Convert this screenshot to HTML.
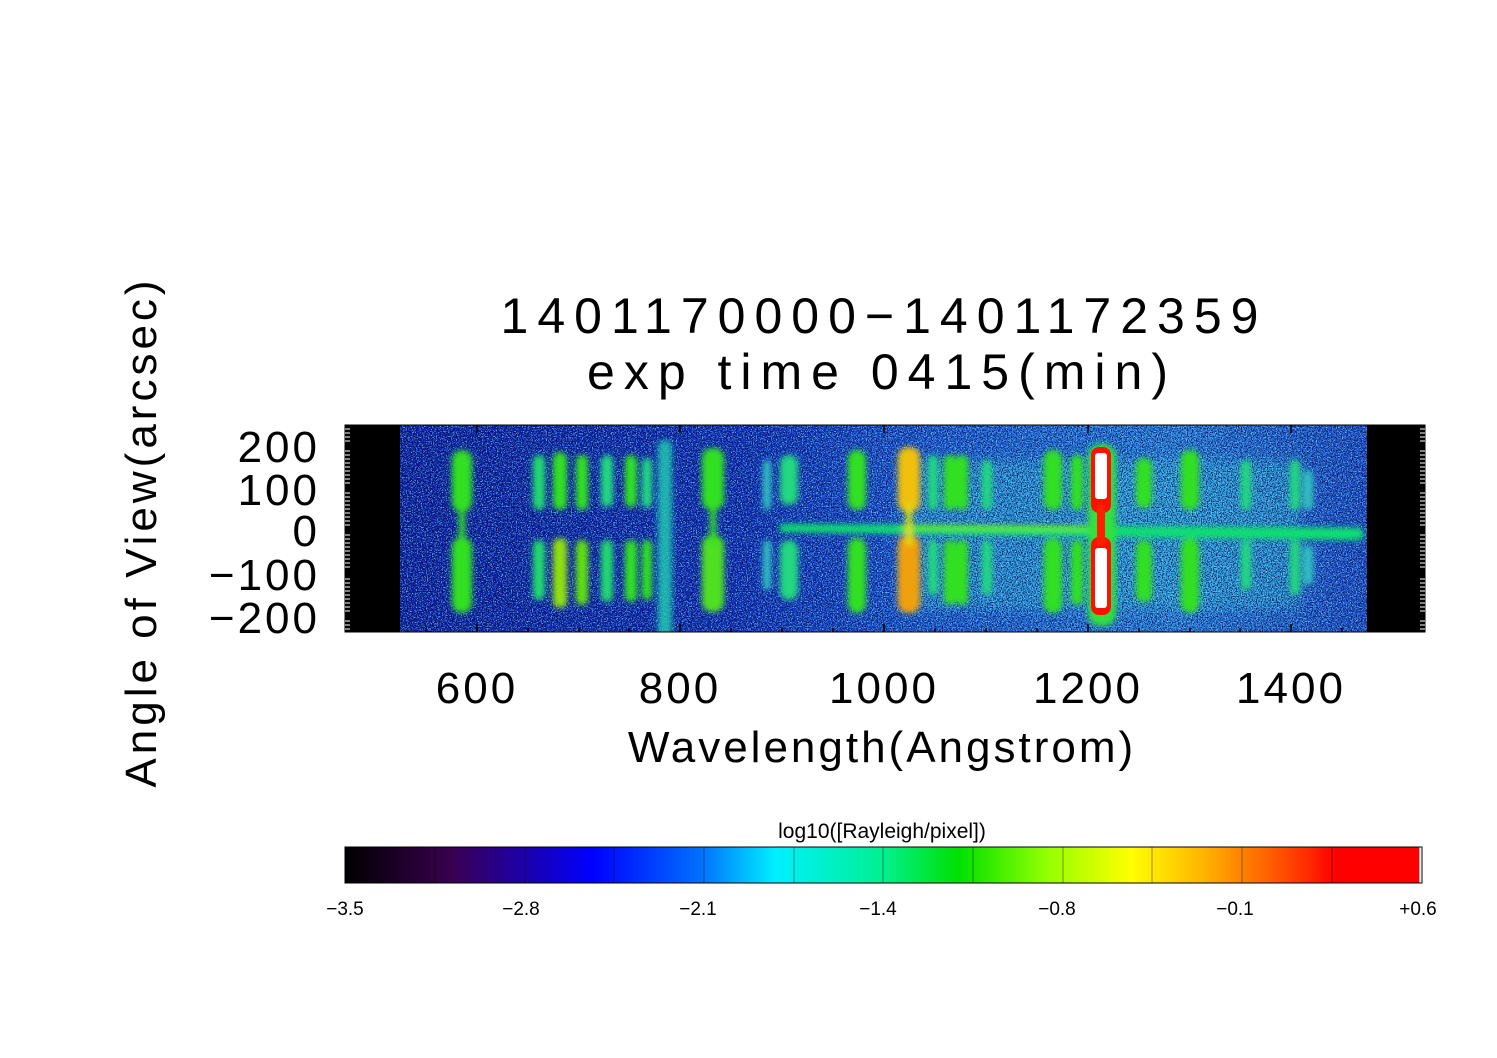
<!DOCTYPE html>
<html><head><meta charset="utf-8"><style>
body{margin:0;background:#fff;}
svg{display:block;font-family:"Liberation Sans",sans-serif;}
</style></head><body>
<svg width="1497" height="1058" viewBox="0 0 1497 1058" xmlns="http://www.w3.org/2000/svg">
<defs>
<filter id="noiseD" x="0" y="0" width="100%" height="100%">
<feTurbulence type="fractalNoise" baseFrequency="0.8" numOctaves="2" seed="3" result="t"/>
<feColorMatrix in="t" type="matrix" values="0 0 0 0 0  0 0 0 0 0  0 0 0 0 0.05  6 0 0 0 -2.9"/>
</filter>
<filter id="noiseL" x="0" y="0" width="100%" height="100%">
<feTurbulence type="fractalNoise" baseFrequency="0.8" numOctaves="2" seed="11" result="t"/>
<feColorMatrix in="t" type="matrix" values="0 0 0 0 0.2  0 0 0 0 0.8  0 0 0 0 1  6 0 0 0 -2.9"/>
</filter>
<filter id="bl" x="-50%" y="-20%" width="200%" height="140%"><feGaussianBlur stdDeviation="3"/></filter>
<filter id="bl2" x="-50%" y="-20%" width="200%" height="140%"><feGaussianBlur stdDeviation="6"/></filter>
<linearGradient id="bg" x1="0" x2="1">
<stop offset="0" stop-color="#0818a8"/><stop offset="0.35" stop-color="#0a28c0"/>
<stop offset="0.55" stop-color="#1858e0"/><stop offset="0.8" stop-color="#2580e8"/><stop offset="1" stop-color="#1848d0"/>
</linearGradient>
<linearGradient id="cb" x1="0" x2="1">
<stop offset="0" stop-color="#000"/><stop offset="0.1" stop-color="#3a0050"/>
<stop offset="0.23" stop-color="#0000ff"/><stop offset="0.33" stop-color="#0070ff"/>
<stop offset="0.4" stop-color="#00f0ff"/><stop offset="0.5" stop-color="#00f090"/>
<stop offset="0.57" stop-color="#00e000"/><stop offset="0.65" stop-color="#90ff00"/>
<stop offset="0.73" stop-color="#ffff00"/><stop offset="0.8" stop-color="#ffb000"/>
<stop offset="0.88" stop-color="#ff4000"/><stop offset="0.92" stop-color="#ff0000"/>
<stop offset="0.997" stop-color="#ff0000"/><stop offset="0.998" stop-color="#fff"/>
</linearGradient>
<clipPath id="pc"><rect x="400" y="425" width="967" height="207"/></clipPath>
</defs>

<rect x="345" y="425" width="1080" height="207" fill="#000"/>
<g clip-path="url(#pc)">
<rect x="400" y="425" width="967" height="207" fill="url(#bg)"/>
<g filter="url(#bl2)" fill="#30d0e0" opacity="0.45">
<rect x="900" y="460" width="400" height="150"/>
</g>
<rect x="400" y="425" width="967" height="207" filter="url(#noiseL)" opacity="0.7"/>
<rect x="400" y="425" width="967" height="207" filter="url(#noiseD)" opacity="0.8"/>
<g filter="url(#bl)">
<rect x="658" y="440" width="14" height="200" rx="6" fill="#20d0b0" opacity="0.8"/>
<path d="M780 524 L1360 528 L1365 534 L1360 540 L780 532Z" fill="#10e070"/>
<path d="M900 525 L1100 526 L1100 531 L900 530Z" fill="#60f020"/>
<g fill="#30e020">
<rect x="452" y="450" width="20" height="62" rx="10"/><rect x="452" y="537" width="20" height="76" rx="10"/><rect x="459" y="505" width="6" height="40"/>
<rect x="533" y="455" width="12" height="55" rx="6" fill="#20d870"/><rect x="533" y="540" width="12" height="60" rx="6" fill="#20d870"/>
<rect x="553" y="452" width="14" height="58" rx="7"/><rect x="553" y="538" width="14" height="70" rx="7" fill="#90e010"/>
<rect x="576" y="455" width="12" height="55" rx="6"/><rect x="576" y="540" width="12" height="65" rx="6" fill="#60e010"/>
<rect x="601" y="455" width="12" height="52" rx="6" fill="#20d880"/><rect x="601" y="540" width="12" height="62" rx="6" fill="#20d870"/>
<rect x="625" y="455" width="12" height="52" rx="6"/><rect x="625" y="540" width="12" height="62" rx="6"/>
<rect x="642" y="458" width="10" height="50" rx="5" fill="#20d880"/><rect x="642" y="540" width="10" height="60" rx="5"/>
<rect x="702" y="448" width="22" height="62" rx="10"/><rect x="702" y="535" width="22" height="77" rx="10" fill="#50e020"/><rect x="710" y="505" width="6" height="40"/>
<rect x="763" y="460" width="8" height="50" rx="4" fill="#30c0c0"/><rect x="763" y="540" width="8" height="50" rx="4" fill="#30c0c0"/>
<rect x="780" y="455" width="18" height="50" rx="9" fill="#20d880"/><rect x="780" y="540" width="18" height="60" rx="9" fill="#20d880"/>
<rect x="848" y="450" width="18" height="60" rx="9"/><rect x="848" y="538" width="18" height="75" rx="9"/>
<rect x="898" y="447" width="22" height="65" rx="10" fill="#f0c010"/><rect x="898" y="535" width="22" height="78" rx="10" fill="#f0a010"/><rect x="906" y="505" width="6" height="40" fill="#e0e010"/>
<rect x="928" y="455" width="10" height="55" rx="5" fill="#20d880"/><rect x="928" y="540" width="10" height="55" rx="5" fill="#20d880"/>
<rect x="944" y="455" width="12" height="55" rx="6"/><rect x="944" y="540" width="12" height="65" rx="6"/>
<rect x="956" y="455" width="12" height="55" rx="6"/><rect x="956" y="540" width="12" height="65" rx="6"/>
<rect x="982" y="460" width="10" height="50" rx="5" fill="#20d880"/><rect x="982" y="540" width="10" height="55" rx="5" fill="#20d880"/>
<rect x="1044" y="450" width="18" height="60" rx="9"/><rect x="1044" y="538" width="18" height="75" rx="9"/>
<rect x="1071" y="455" width="12" height="55" rx="6"/><rect x="1071" y="540" width="12" height="65" rx="6"/>
<rect x="1136" y="458" width="16" height="50" rx="8"/><rect x="1136" y="540" width="16" height="62" rx="8"/>
<rect x="1181" y="450" width="18" height="60" rx="9"/><rect x="1181" y="538" width="18" height="75" rx="9"/>
<rect x="1241" y="460" width="10" height="50" rx="5" fill="#20d880"/><rect x="1241" y="540" width="10" height="50" rx="5" fill="#20d880"/>
<rect x="1290" y="460" width="10" height="50" rx="5" fill="#20d880"/><rect x="1290" y="540" width="10" height="55" rx="5" fill="#20d880"/>
<rect x="1303" y="470" width="10" height="40" rx="5" fill="#30c0c0"/><rect x="1303" y="545" width="10" height="40" rx="5" fill="#30c0c0"/>
</g>
</g>
<g>
<rect x="1088" y="444" width="28" height="182" rx="12" fill="#30e040" filter="url(#bl)"/>
<rect x="1091" y="447" width="20" height="66" rx="8" fill="#ff1000"/>
<rect x="1091" y="537" width="20" height="78" rx="8" fill="#ff1000"/>
<rect x="1097" y="505" width="8" height="40" fill="#ff2000"/>
<rect x="1095" y="453" width="12" height="46" rx="3" fill="#fff"/>
<rect x="1095" y="548" width="12" height="60" rx="3" fill="#fff"/>
</g>
</g>
<rect x="345" y="425" width="1080" height="207" fill="none" stroke="#000" stroke-width="1"/>
<g stroke="#000" stroke-width="1.5">
<path d="M477 632v-8M680 632v-8M884 632v-8M1088 632v-8M1291 632v-8M477 425v8M680 425v8M884 425v8M1088 425v8M1291 425v8"/>
<path d="M375 632v-4M426 632v-4M528 632v-4M579 632v-4M629 632v-4M731 632v-4M782 632v-4M833 632v-4M935 632v-4M986 632v-4M1037 632v-4M1139 632v-4M1190 632v-4M1240 632v-4M1342 632v-4M1393 632v-4"/>
<path d="M345 447h10M345 489h10M345 530h10M345 574h10M345 617h10M1425 447h-10M1425 489h-10M1425 530h-10M1425 574h-10M1425 617h-10"/>
</g>
<g stroke="#fff" stroke-width="1">
<path d="M345 429h5M345 433h5M345 437h5M345 441h5M345 451h5M345 455h5M345 459h5M345 463h5M345 467h5M345 471h5M345 475h5M345 479h5M345 483h5M345 493h5M345 497h5M345 501h5M345 505h5M345 509h5M345 513h5M345 517h5M345 521h5M345 525h5M345 535h5M345 539h5M345 543h5M345 547h5M345 551h5M345 555h5M345 559h5M345 563h5M345 567h5M345 579h5M345 583h5M345 587h5M345 591h5M345 595h5M345 599h5M345 603h5M345 607h5M345 611h5M345 621h5M345 625h5M345 629h5"/>
<path d="M1420 429h5M1420 433h5M1420 437h5M1420 441h5M1420 451h5M1420 455h5M1420 459h5M1420 463h5M1420 467h5M1420 471h5M1420 475h5M1420 479h5M1420 483h5M1420 493h5M1420 497h5M1420 501h5M1420 505h5M1420 509h5M1420 513h5M1420 517h5M1420 521h5M1420 525h5M1420 535h5M1420 539h5M1420 543h5M1420 547h5M1420 551h5M1420 555h5M1420 559h5M1420 563h5M1420 567h5M1420 579h5M1420 583h5M1420 587h5M1420 591h5M1420 595h5M1420 599h5M1420 603h5M1420 607h5M1420 611h5M1420 621h5M1420 625h5M1420 629h5"/>
</g>

<g fill="#000" font-size="50" text-anchor="middle" letter-spacing="9">
<text x="884" y="333">1401170000−1401172359</text>
<text x="882" y="389">exp time 0415(min)</text>
</g>
<g fill="#000" font-size="44" text-anchor="end" letter-spacing="3">
<text x="320" y="462">200</text>
<text x="320" y="505">100</text>
<text x="320" y="546">0</text>
<text x="320" y="590">−100</text>
<text x="320" y="633">−200</text>
</g>
<g fill="#000" font-size="44" text-anchor="middle" letter-spacing="3">
<text x="477" y="703">600</text>
<text x="680" y="703">800</text>
<text x="884" y="703">1000</text>
<text x="1088" y="703">1200</text>
<text x="1291" y="703">1400</text>
<text x="882" y="762">Wavelength(Angstrom)</text>
<text transform="translate(156,532) rotate(-90)" letter-spacing="4">Angle of View(arcsec)</text>
</g>

<text x="882" y="838" font-size="21" text-anchor="middle">log10([Rayleigh/pixel])</text>
<rect x="345" y="847" width="1077" height="36" fill="url(#cb)" stroke="#000" stroke-width="1"/>
<g stroke="#000" stroke-opacity="0.4" stroke-width="1">
<path d="M435 847v36M525 847v36M614 847v36M704 847v36M794 847v36M883 847v36M973 847v36M1063 847v36M1152 847v36M1242 847v36M1332 847v36"/>
</g>
<g font-size="19" text-anchor="middle">
<text x="345" y="915">−3.5</text>
<text x="521" y="915">−2.8</text>
<text x="698" y="915">−2.1</text>
<text x="878" y="915">−1.4</text>
<text x="1057" y="915">−0.8</text>
<text x="1235" y="915">−0.1</text>
<text x="1418" y="915">+0.6</text>
</g>
</svg>
</body></html>
